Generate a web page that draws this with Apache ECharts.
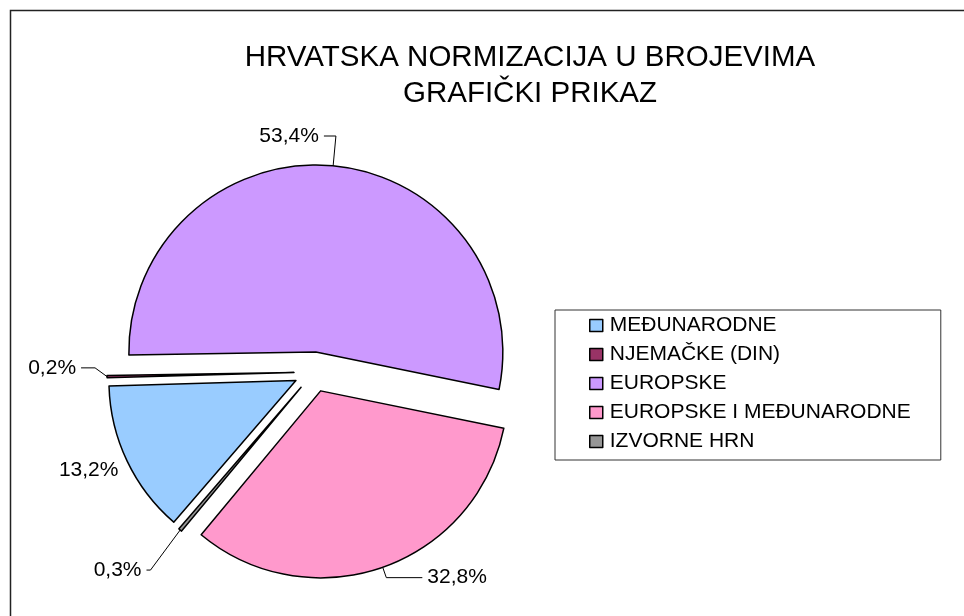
<!DOCTYPE html>
<html>
<head>
<meta charset="utf-8">
<script src="https://cdn.jsdelivr.net/npm/echarts@6/dist/echarts.min.js"></script>
<style>
  html, body { margin: 0; padding: 0; background: #fff; }
  #chart { width: 964px; height: 616px; }
</style>
</head>
<body>
<div id="chart"></div>
<script>
// podaci
const categories = ['MEĐUNARODNE', 'NJEMAČKE (DIN)', 'EUROPSKE', 'EUROPSKE I MEĐUNARODNE', 'IZVORNE HRN'];
const shares = [13.2, 0.2, 53.4, 32.8, 0.3];
const colors = ['#99CCFF', '#993366', '#CC99FF', '#FF99CC', '#969696'];
// duljine linija do oznaka [length, length2]
const leaderLines = [[4, 0], [12, 14], [30, 12], [11, 36], [46, 4]];

const chart = echarts.init(document.getElementById('chart'));

chart.setOption({
  backgroundColor: '#fff',
  animation: false,
  title: {
    text: 'HRVATSKA NORMIZACIJA U BROJEVIMA\nGRAFIČKI PRIKAZ',
    left: 525,
    top: 35,
    textAlign: 'center',
    textStyle: {
      fontFamily: 'Liberation Sans, Arial, sans-serif',
      fontWeight: 'normal',
      fontSize: 29.5,
      lineHeight: 36,
      color: '#000',
    },
  },
  legend: {
    orient: 'vertical',
    left: 555,
    top: 310,
    padding: [5, 30, 8, 34],
    borderColor: '#333',
    borderWidth: 1,
    itemGap: 8,
    itemWidth: 13,
    itemHeight: 12,
    icon: 'rect',
    itemStyle: { borderColor: '#000', borderWidth: 1.5 },
    textStyle: {
      fontFamily: 'Liberation Sans, Arial, sans-serif',
      fontSize: 21,
      color: '#000',
      padding: [0, 0, 0, 2],
    },
    data: categories,
  },
  graphic: [{
    type: 'rect',
    shape: { x: 10.5, y: 10.5, width: 1000, height: 700 },
    style: { fill: 'none', stroke: '#222', lineWidth: 1.5 },
    silent: true,
  }],
  series: [{
    name: 'Hrvatska normizacija',
    type: 'pie',
    center: [314, 372],
    radius: 187,
    startAngle: 229.2,
    clockwise: true,
    selectedMode: 'multiple',
    selectedOffset: 20,
    avoidLabelOverlap: false,
    itemStyle: {
      borderColor: '#000',
      borderWidth: 1.5,
    },
    label: {
      show: true,
      position: 'outside',
      fontFamily: 'Liberation Sans, Arial, sans-serif',
      fontSize: 21,
      color: '#000',
      formatter: (p) => p.value.toFixed(1).replace('.', ',') + '%',
    },
    labelLine: {
      show: true,
      lineStyle: { color: '#000', width: 1 },
    },
    // 53,4% lijevo od linije, ostale oznake malo pomaknute
    labelLayout: (p) => {
      const pts = p.labelLinePoints;
      if (p.dataIndex === 0) return { dy: 8 };
      if (!pts) return {};
      if (p.dataIndex === 2) {
        const x2 = pts[1][0] - (pts[2][0] - pts[1][0]);
        return {
          dx: (x2 - 5 - p.labelRect.width) - p.labelRect.x,
          labelLinePoints: [pts[0], pts[1], [x2, pts[2][1]]],
        };
      }
      if (p.dataIndex === 1) {
        return {
          dy: -9,
          labelLinePoints: [pts[0], [pts[1][0], pts[1][1] - 9], [pts[2][0], pts[2][1] - 9]],
        };
      }
      if (p.dataIndex === 4) {
        return {
          dy: 5,
          labelLinePoints: [pts[0], [pts[1][0], pts[1][1] + 5], [pts[2][0], pts[2][1] + 5]],
        };
      }
      return {};
    },
    emphasis: { scale: false },
    data: categories.map((name, i) => ({
      name,
      value: shares[i],
      selected: true,
      itemStyle: { color: colors[i] },
      labelLine: {
        show: leaderLines[i][0] > 5,
        length: leaderLines[i][0],
        length2: leaderLines[i][1],
      },
    })),
  }],
});
</script>
</body>
</html>
